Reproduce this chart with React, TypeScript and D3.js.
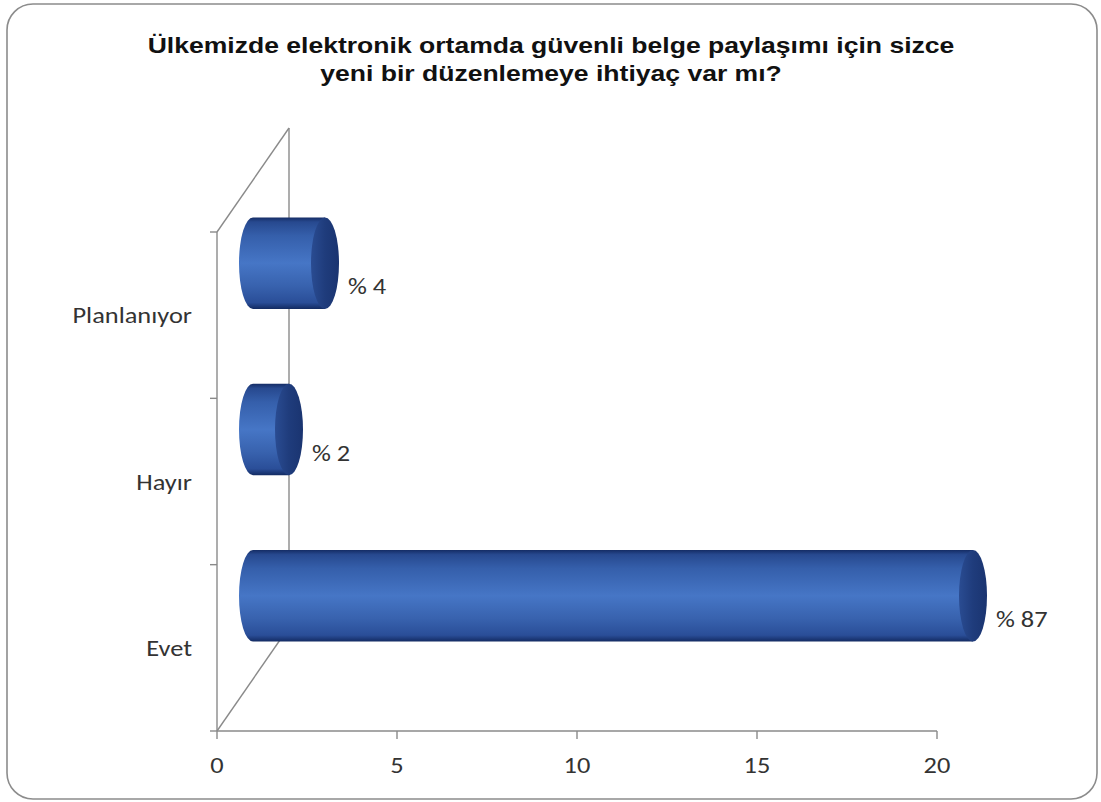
import React from "react";
import * as d3 from "d3";

const categories = ["Planlanıyor", "Hayır", "Evet"];
const values = [2, 1, 20];
const valueLabels = ["% 4", "% 2", "% 87"];
const xTicks = [0, 5, 10, 15, 20];
const titleLines = [
  "Ülkemizde elektronik ortamda güvenli belge paylaşımı için sizce",
  "yeni bir düzenlemeye ihtiyaç var mı?",
];

const W = 1101;
const H = 802;
const DX = 72;
const DY = -104;
const SX = 1.2;

function SText(props: { x: number; y: number; anchor?: string; size: number; sx: number; children: React.ReactNode; bold?: boolean; family: string; fill: string }) {
  return (
    <text
      transform={`translate(${props.x},${props.y}) scale(${props.sx},1)`}
      textAnchor={props.anchor || "start"}
      fontFamily={props.family}
      fontWeight={props.bold ? "bold" : "normal"}
      fontSize={props.size}
      fill={props.fill}
    >
      {props.children}
    </text>
  );
}

export default function App() {
  const x = d3.scaleLinear().domain([0, 20]).range([217, 937]);
  const y = d3
    .scaleBand<string>()
    .domain(categories)
    .range([232, 731])
    .paddingInner(0.45)
    .paddingOuter(0.225);
  const step = y.step();
  const bottom = 731;
  const top = 232;
  const axisColor = "#8a8a8a";
  const rx = 14;
  const font = "Carlito, Lato, 'Liberation Sans', sans-serif";
  const txt = "#333";

  return (
    <svg width={W} height={H} style={{ position: "absolute", left: 0, top: 0 }}>
      <defs>
        <linearGradient id="body" x1="0" y1="0" x2="0" y2="1">
          <stop offset="0" stopColor="#152d66" />
          <stop offset="0.05" stopColor="#27498f" />
          <stop offset="0.2" stopColor="#355fab" />
          <stop offset="0.5" stopColor="#4676c6" />
          <stop offset="0.75" stopColor="#3862ae" />
          <stop offset="0.93" stopColor="#2a4e98" />
          <stop offset="1" stopColor="#132b62" />
        </linearGradient>
        <linearGradient id="cap" x1="0" y1="0" x2="1" y2="0">
          <stop offset="0" stopColor="#2a4c92" />
          <stop offset="0.5" stopColor="#1f3c7c" />
          <stop offset="1" stopColor="#1a3470" />
        </linearGradient>
      </defs>
      <rect x={7} y={4} width={1090} height={795} rx={26} ry={26} fill="#fff" stroke="#8c8c8c" strokeWidth={1.6} />
      {titleLines.map((t, i) => (
        <SText
          key={i}
          x={551}
          y={53 + i * 28}
          anchor="middle"
          family="'Liberation Sans', Arial, sans-serif"
          bold
          size={22.5}
          sx={1.18}
          fill="#111"
        >
          {t}
        </SText>
      ))}
      {/* walls */}
      <g stroke={axisColor} strokeWidth={1.4} fill="none">
        <line x1={x(0)} y1={top} x2={x(0) + DX} y2={top + DY} />
        <line x1={x(0) + DX} y1={top + DY} x2={x(0) + DX} y2={bottom + DY} />
        <line x1={x(0)} y1={bottom} x2={x(0) + DX} y2={bottom + DY} />
        <line x1={x(0)} y1={top} x2={x(0)} y2={bottom} />
        <line x1={x(0)} y1={bottom} x2={x(20)} y2={bottom} />
        {[0, 1, 2, 3].map((i) => (
          <line key={i} x1={x(0) - 7} y1={top + i * step} x2={x(0)} y2={top + i * step} />
        ))}
        {xTicks.map((t) => (
          <line key={t} x1={x(t)} y1={bottom} x2={x(t)} y2={bottom + 8} />
        ))}
      </g>
      {xTicks.map((t) => (
        <SText key={t} x={x(t)} y={773} anchor="middle" family={font} size={22} sx={SX} fill={txt}>
          {t}
        </SText>
      ))}
      {categories.map((c) => (
        <SText
          key={c}
          x={192}
          y={(y(c) as number) + y.bandwidth() / 2 + 8}
          anchor="end"
          family={font}
          size={22}
          sx={SX}
          fill={txt}
        >
          {c}
        </SText>
      ))}
      {categories.map((c, i) => {
        const y0 = (y(c) as number) + DY / 2;
        const y1 = y0 + y.bandwidth();
        const ry = y.bandwidth() / 2;
        const x0 = x(0) + DX / 2;
        const x1 = x(values[i]) + DX / 2;
        const d = `M${x0},${y0} L${x1},${y0} L${x1},${y1} L${x0},${y1} A${rx},${ry} 0 0 1 ${x0},${y0} Z`;
        return (
          <g key={c}>
            <path d={d} fill="url(#body)" />
            <ellipse cx={x1} cy={(y0 + y1) / 2} rx={rx} ry={ry} fill="url(#cap)" />
            <SText x={x1 + rx + 9} y={(y0 + y1) / 2 + 31} family={font} size={22} sx={SX} fill={txt}>
              {valueLabels[i]}
            </SText>
          </g>
        );
      })}
    </svg>
  );
}
